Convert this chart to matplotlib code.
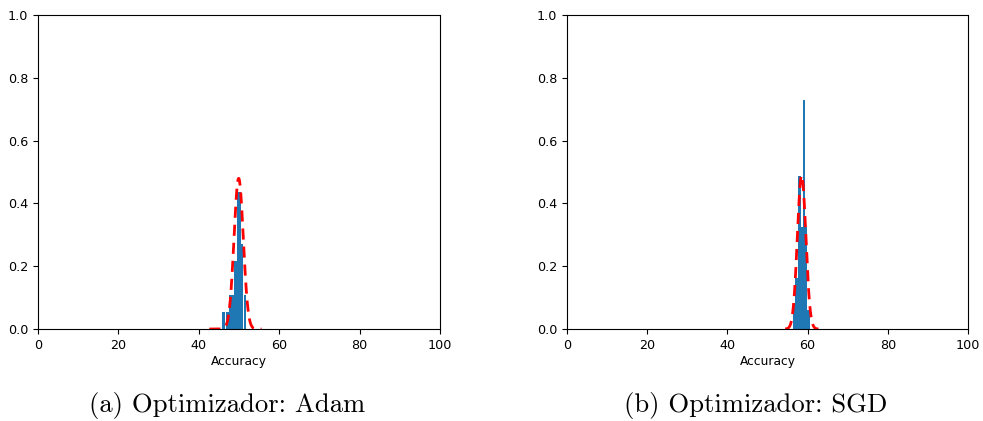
import numpy as np
import matplotlib.pyplot as plt

plt.rcParams['font.family'] = ['DejaVu Sans']

# Adam: histogram bins (accuracy %) and density heights
adam_edges = [45.77, 46.6, 46.77, 47.6, 48.76, 49.5, 50.37, 51.1, 51.24, 51.74]
adam_heights = [0.055, 0.0, 0.055, 0.108, 0.217, 0.437, 0.27, 0.0, 0.108]
# fitted normal curve: peak, mean, std
adam_fit = (0.48, 49.9, 1.15)
adam_fit_range = (42.6, 55.6)

# SGD: histogram bins (accuracy %) and density heights
sgd_edges = [56.4, 56.9, 57.7, 58.3, 58.45, 58.8, 59.3, 59.9, 60.6]
sgd_heights = [0.083, 0.162, 0.487, 0.0, 0.326, 0.729, 0.326, 0.06]
sgd_fit = (0.49, 58.5, 1.05)
sgd_fit_range = (54.4, 62.7)

captions = ['(a) Optimizador: Adam', '(b) Optimizador: SGD']


def gauss(x, peak, mu, sigma):
    return peak * np.exp(-0.5 * ((x - mu) / sigma) ** 2)


def acc_hist(ax, edges, heights, fit, fit_range):
    edges = np.array(edges)
    ax.hist(edges[:-1], bins=edges, weights=heights, color='#1f77b4')
    x = np.linspace(fit_range[0], fit_range[1], 300)
    ax.plot(x, gauss(x, *fit), 'r--', linewidth=2, dashes=(4, 2.5))
    ax.set_xlim(0, 100)
    ax.set_ylim(0, 1.0)
    ax.set_xticks(np.arange(0, 101, 20))
    ax.set_yticks(np.arange(0, 1.01, 0.2))
    ax.tick_params(labelsize=9.2)
    ax.set_xlabel('Accuracy', fontsize=8.8, labelpad=2)


fig = plt.figure(figsize=(9.83, 4.21), dpi=100)
ax1 = fig.add_axes([0.0387, 0.2185, 0.409, 0.7458])
ax2 = fig.add_axes([0.5768, 0.2185, 0.408, 0.7458])

acc_hist(ax1, adam_edges, adam_heights, adam_fit, adam_fit_range)
acc_hist(ax2, sgd_edges, sgd_heights, sgd_fit, sgd_fit_range)

fig.text(0.231, 0.038, captions[0], ha='center', va='center', fontsize=19.2, family='cmr10')
fig.text(0.769, 0.038, captions[1], ha='center', va='center', fontsize=19.2, family='cmr10')

fig.savefig('out.png', dpi=100)
